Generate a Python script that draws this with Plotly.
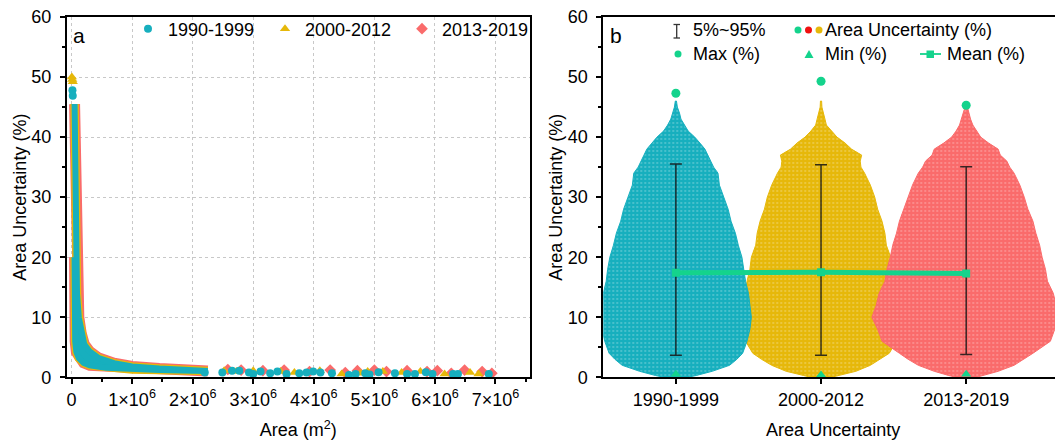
import plotly.graph_objects as go

# The page adds an 8 px body margin, so the figure is drawn 8 px in from the window corner.
OFF = 8
W, H = 1063 - OFF, 442 - OFF
FONT = "Liberation Sans, Arial, sans-serif"

periods = ["1990-1999", "2000-2012", "2013-2019"]
c_blue, c_yellow, c_pink = "#17AFBE", "#E6B80A", "#FA6B6B"
c_green = "#14D38C"

# ---------------- panel a data (area in 10^6 m2, uncertainty in %) ----------------
band_upper_area = [0.05, 0.052, 0.055, 0.06, 0.07, 0.09, 0.12, 0.16, 0.21, 0.3, 0.45, 0.7, 1.0, 1.45, 2.0, 2.25]
band_upper_unc = [45.5, 44, 40, 30, 20, 14, 10, 7.3, 5.5, 4.3, 3.2, 2.35, 1.8, 1.45, 1.2, 1.1]
band_lower_area = [2.25, 2.0, 1.45, 1.0, 0.57, 0.3, 0.2, 0.12, 0.08, 0.06, 0.05]
band_lower_unc = [1.05, 1.1, 1.2, 1.3, 1.6, 2.0, 2.4, 3.2, 4.2, 6.0, 20.0]

pts_1990_area = [0.015, 0.02, 2.2, 2.49, 2.65, 2.77, 2.93, 3.0, 3.12, 3.28, 3.40, 3.55, 3.76, 3.88, 3.99,
                 4.11, 4.30, 4.58, 4.69, 4.85, 4.92, 5.07, 5.34, 5.54, 5.67, 5.85, 5.96, 6.30, 6.38, 6.89]
pts_1990_unc = [47.8, 46.9, 0.8, 0.8, 1.1, 1.1, 0.8, 0.55, 0.95, 0.67, 0.95, 0.55, 0.67, 0.8, 0.95,
                0.8, 0.67, 0.4, 0.55, 0.67, 0.45, 0.83, 0.67, 0.55, 0.55, 0.83, 0.55, 0.55, 0.55, 0.55]
pts_2000_area = [0.005, 0.012, 0.02, 2.52, 2.72, 3.0, 3.45, 3.68, 4.10, 4.46, 4.77, 4.89, 5.14, 5.45,
                 5.76, 6.16, 6.58, 6.72]
pts_2000_unc = [50.0, 49.6, 49.2, 1.1, 0.95, 1.1, 0.95, 0.8, 1.1, 0.55, 0.67, 0.95, 0.95, 0.8,
                0.95, 0.55, 0.8, 0.55]
pts_2013_area = [2.58, 2.80, 3.16, 3.51, 3.93, 4.27, 4.52, 4.72, 5.0, 5.20, 5.54, 5.87, 6.04, 6.27,
                 6.49, 6.78, 6.94]
pts_2013_unc = [1.3, 1.2, 1.1, 1.2, 0.95, 1.2, 0.8, 1.1, 1.2, 0.95, 1.1, 0.95, 1.1, 0.67,
                1.2, 0.95, 0.67]

area_ticks = [0, 1, 2, 3, 4, 5, 6, 7]
area_ticktext = ["0"] + [f"{k}×10<sup>6</sup>" for k in area_ticks[1:]]

# ---------------- panel b data ----------------
cat_pos = [1, 2, 3]
levels = [0, 0.3, 1, 2, 3, 4, 6, 8, 10, 12, 14, 16, 18, 20, 22, 24, 26, 28, 30, 32, 34, 35, 36,
          37, 38, 39, 40, 41, 42, 43, 44, 45, 46]
hw_1990 = [0.08, 0.14, 0.25, 0.37, 0.42, 0.46, 0.49, 0.51, 0.52, 0.51, 0.50, 0.48, 0.47, 0.455, 0.43,
           0.41, 0.38, 0.36, 0.33, 0.30, 0.29, 0.26, 0.24, 0.22, 0.20, 0.166, 0.13, 0.085, 0.057, 0.035,
           0.025, 0.01, 0.004]
hw_2000 = [0.07, 0.12, 0.24, 0.34, 0.41, 0.47, 0.52, 0.54, 0.54, 0.53, 0.52, 0.51, 0.49, 0.48, 0.45,
           0.44, 0.42, 0.39, 0.37, 0.34, 0.30, 0.275, 0.27, 0.28, 0.21, 0.166, 0.11, 0.07, 0.037, 0.027,
           0.014, 0.006, 0.004]
hw_2013 = [0.07, 0.12, 0.22, 0.33, 0.40, 0.46, 0.58, 0.61, 0.65, 0.62, 0.60, 0.56, 0.546, 0.523, 0.506,
           0.48, 0.46, 0.425, 0.40, 0.37, 0.33, 0.30, 0.28, 0.235, 0.22, 0.155, 0.10, 0.07, 0.046, 0.03,
           0.02, 0.008, 0.002]
p5 = [3.67, 3.67, 3.78]
p95 = [35.5, 35.4, 35.05]
mean_unc = [17.4, 17.5, 17.3]
max_unc = [47.3, 49.3, 45.3]
min_unc = [0.5, 0.4, 0.5]


def px(x):
    return (x - OFF) / W


def py(y):
    return 1 - (y - OFF) / H


fig = go.Figure()

# ----- panel a: dense band (drawn outer->inner) -----
band_x = [a * 1e6 for a in band_upper_area + band_lower_area]
band_y = band_upper_unc + band_lower_unc
for col, lw in [(c_pink, 11), (c_yellow, 8.5), (c_blue, 6)]:
    fig.add_trace(go.Scatter(x=band_x, y=band_y, mode="lines", fill="toself", fillcolor=col,
                             line=dict(color=col, width=lw), showlegend=False, hoverinfo="skip",
                             xaxis="x", yaxis="y"))

# ----- panel a: individual points -----
for name, ax, uy, col, sym, sz, rank in [
    (periods[2], pts_2013_area, pts_2013_unc, c_pink, "diamond", 9, 3),
    (periods[1], pts_2000_area, pts_2000_unc, c_yellow, "triangle-up", 9, 2),
    (periods[0], pts_1990_area, pts_1990_unc, c_blue, "circle", 8, 1),
]:
    fig.add_trace(go.Scatter(x=[a * 1e6 for a in ax], y=uy, mode="markers", name=name,
                             marker=dict(color=col, symbol=sym, size=sz, line=dict(width=0)),
                             legendrank=rank, xaxis="x", yaxis="y"))

# ----- panel b: distributions -----
for hw, c, col in [(hw_2000, cat_pos[1], c_yellow), (hw_1990, cat_pos[0], c_blue), (hw_2013, cat_pos[2], c_pink)]:
    xs = [c + h for h in hw] + [c - h for h in reversed(hw)]
    ys = levels + list(reversed(levels))
    fig.add_trace(go.Scatter(x=xs, y=ys, mode="lines", fill="toself", fillcolor=col,
                             fillpattern=dict(shape=".", bgcolor=col, fgcolor="white", fgopacity=0.55,
                                              size=4, solidity=0.1),
                             line=dict(color=col, width=1), showlegend=False, hoverinfo="skip",
                             xaxis="x2", yaxis="y2"))

# whiskers 5%-95%
fig.add_trace(go.Scatter(x=cat_pos, y=mean_unc, mode="markers", marker=dict(size=1, opacity=0),
                         error_y=dict(type="data", symmetric=False,
                                      array=[b - m for b, m in zip(p95, mean_unc)],
                                      arrayminus=[m - a for a, m in zip(p5, mean_unc)],
                                      width=6, thickness=1.5, color="rgba(20,20,20,0.85)"),
                         showlegend=False, xaxis="x2", yaxis="y2"))
# mean
fig.add_trace(go.Scatter(x=cat_pos, y=mean_unc, mode="lines+markers",
                         line=dict(color=c_green, width=5),
                         marker=dict(symbol="square", size=8, color=c_green),
                         showlegend=False, xaxis="x2", yaxis="y2"))
# max
fig.add_trace(go.Scatter(x=cat_pos, y=max_unc, mode="markers",
                         marker=dict(symbol="circle", size=9, color=c_green),
                         showlegend=False, xaxis="x2", yaxis="y2"))
# min
fig.add_trace(go.Scatter(x=cat_pos, y=min_unc, mode="markers", cliponaxis=False,
                         marker=dict(symbol="triangle-up", size=9, color=c_green),
                         showlegend=False, xaxis="x2", yaxis="y2"))

ydom = [py(377.3), py(17)]
axis_common = dict(showline=True, linecolor="black", linewidth=1.8, ticks="outside", ticklen=5,
                   tickwidth=1.5, tickcolor="black", tickfont=dict(size=18, color="black"),
                   zeroline=False, automargin=False, ticklabeloverflow="allow")

fig.update_layout(
    width=W, height=H, margin=dict(l=0, r=0, t=0, b=0),
    paper_bgcolor="white", plot_bgcolor="white",
    font=dict(family=FONT, size=18, color="black"),
    xaxis=dict(domain=[px(66.7), px(530)], range=[-0.08e6, 7.57e6], tickvals=[t * 1e6 for t in area_ticks],
               ticktext=area_ticktext, mirror=True, showgrid=True, gridcolor="#c8c8c8", griddash="dot",
               gridwidth=1, minor=dict(ticks="outside", ticklen=3, tickcolor="black", dtick=0.5e6, showgrid=False),
               title=dict(text="Area (m<sup>2</sup>)", standoff=15, font=dict(size=18)),
               anchor="y", **axis_common),
    yaxis=dict(domain=ydom, range=[0, 60], dtick=10, mirror=True, showgrid=True, gridcolor="#c8c8c8",
               griddash="dot", gridwidth=1, ticklabelstandoff=5,
               minor=dict(ticks="outside", ticklen=3, tickcolor="black", dtick=5, showgrid=False),
               title=dict(text="Area Uncertainty (%)", standoff=0, font=dict(size=18)),
               anchor="x", **axis_common),
    xaxis2=dict(domain=[px(603.3), 1.0], range=[0.5, 3.667], tickvals=cat_pos, ticktext=periods,
                mirror=True, showgrid=False,
                title=dict(text="Area Uncertainty", standoff=15, font=dict(size=18)),
                anchor="y2", **axis_common),
    yaxis2=dict(domain=ydom, range=[0, 60], dtick=10, showgrid=False, ticklabelstandoff=5,
                minor=dict(ticks="outside", ticklen=3, tickcolor="black", dtick=5, showgrid=False),
                title=dict(text="Area Uncertainty (%)", standoff=0, font=dict(size=18)),
                anchor="x2", **axis_common),
    legend=dict(orientation="h", x=px(128), xanchor="left", y=py(29), yanchor="middle",
                font=dict(size=18), bgcolor="rgba(0,0,0,0)", entrywidth=92, entrywidthmode="pixels",
                itemwidth=30),
)

ann = [
    dict(text="a", x=px(71), y=py(36), xanchor="left", yanchor="middle", font=dict(size=21)),
    dict(text="b", x=px(608), y=py(36), xanchor="left", yanchor="middle", font=dict(size=21)),
    dict(text="5%~95%", x=px(691), y=py(30), xanchor="left", yanchor="middle", font=dict(size=18)),
    dict(text="Area Uncertainty (%)", x=px(823), y=py(30), xanchor="left", yanchor="middle", font=dict(size=18)),
    dict(text="Max (%)", x=px(691), y=py(54), xanchor="left", yanchor="middle", font=dict(size=18)),
    dict(text="Min (%)", x=px(823), y=py(54), xanchor="left", yanchor="middle", font=dict(size=18)),
    dict(text="Mean (%)", x=px(945), y=py(54), xanchor="left", yanchor="middle", font=dict(size=18)),
]
for a in ann:
    a.update(xref="paper", yref="paper", showarrow=False)
fig.update_layout(annotations=ann)

shapes = []
# I-beam key
for (x0, y0, x1, y1) in [(676.7, 24.5, 676.7, 38), (673.5, 24.5, 680, 24.5), (673.5, 38, 680, 38)]:
    shapes.append(dict(type="line", x0=px(x0), x1=px(x1), y0=py(y0), y1=py(y1),
                       line=dict(color="#333333", width=1.3)))
# three dots key
for cx, col in [(798, c_green), (808.5, "#F01010"), (819, "#E6B80A")]:
    shapes.append(dict(type="circle", x0=px(cx - 3.5), x1=px(cx + 3.5), y0=py(26.5), y1=py(33.5),
                       fillcolor=col, line=dict(width=0)))
# max key
shapes.append(dict(type="circle", x0=px(674.5), x1=px(681.5), y0=py(50.5), y1=py(57.5),
                   fillcolor=c_green, line=dict(width=0)))
# min key
shapes.append(dict(type="path", path=f"M {px(804.5)} {py(58)} L {px(813.5)} {py(58)} L {px(809)} {py(50)} Z",
                   fillcolor=c_green, line=dict(width=0)))
# mean key
shapes.append(dict(type="line", x0=px(920), x1=px(941), y0=py(54), y1=py(54), line=dict(color=c_green, width=1.8)))
shapes.append(dict(type="rect", x0=px(926.5), x1=px(934), y0=py(50.5), y1=py(58),
                   fillcolor=c_green, line=dict(width=0)))
for s in shapes:
    s.update(xref="paper", yref="paper", layer="above")
fig.update_layout(shapes=shapes)

fig.write_html("out.html")
